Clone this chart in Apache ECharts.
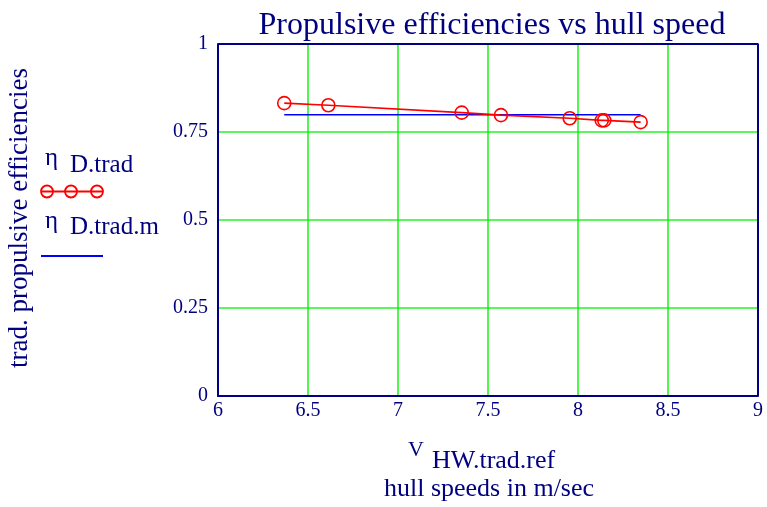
<!DOCTYPE html>
<html>
<head>
<meta charset="utf-8">
<script src="https://cdn.jsdelivr.net/npm/echarts@6/dist/echarts.min.js"></script>
<style>
  html, body { margin: 0; padding: 0; background: #fff; }
  #chart { width: 767px; height: 507px; }
</style>
</head>
<body>
<div id="chart"></div>
<script>
// hull speeds (m/sec) and traditional propulsive efficiencies
const speeds = [6.368, 6.613, 7.354, 7.572, 7.954, 8.132, 8.146, 8.348]
const etaTrad = [0.832, 0.826, 0.805, 0.798, 0.789, 0.783, 0.783, 0.778]
// mean efficiency line across the speed range
const meanSpeeds = [6.368, 8.348]
const etaMean = [0.799, 0.799]

const xTicks = [6, 6.5, 7, 7.5, 8, 8.5, 9]
const yTicks = [0, 0.25, 0.5, 0.75, 1]

const navy = '#000080'
const serif = '"Liberation Serif", "DejaVu Serif", serif'
const gridGreen = '#00f000'

const chart = echarts.init(document.getElementById('chart'))

function label(text, x, y, size, align) {
  return {
    type: 'text', x: x, y: y,
    style: {
      text: text, fill: navy, font: size + 'px ' + serif,
      align: align || 'left', verticalAlign: 'middle'
    }
  }
}

chart.setOption({
  animation: false,
  title: {
    text: 'Propulsive efficiencies vs hull speed',
    left: 487,
    textAlign: 'center',
    top: 5,
    textStyle: { color: navy, fontFamily: serif, fontSize: 32, fontWeight: 'normal' }
  },
  grid: { left: 218, right: 9, top: 44, bottom: 111 },
  xAxis: {
    type: 'value',
    min: xTicks[0],
    max: xTicks[xTicks.length - 1],
    interval: 0.5,
    axisLine: { show: true, onZero: false, lineStyle: { color: navy, width: 2 } },
    axisTick: { show: false },
    axisLabel: {
      color: navy, fontFamily: serif, fontSize: 20, margin: 5,
      formatter: v => String(v)
    },
    splitLine: { show: true, lineStyle: { color: gridGreen, width: 1.6, opacity: 0.85 } }
  },
  yAxis: {
    type: 'value',
    min: yTicks[0],
    max: yTicks[yTicks.length - 1],
    interval: 0.25,
    axisLine: { show: true, onZero: false, lineStyle: { color: navy, width: 2 } },
    axisTick: { show: false },
    axisLabel: {
      color: navy, fontFamily: serif, fontSize: 20, margin: 10,
      formatter: v => String(v)
    },
    splitLine: { show: true, lineStyle: { color: gridGreen, width: 1.6, opacity: 0.85 } }
  },
  series: [
    {
      name: 'eta D.trad',
      type: 'line',
      data: speeds.map((s, i) => [s, etaTrad[i]]),
      symbol: 'circle',
      symbolSize: 13,
      showAllSymbol: true,
      lineStyle: { color: '#ff0000', width: 1.6 },
      itemStyle: { color: 'rgba(0,0,0,0)', borderColor: '#ff0000', borderWidth: 1.6 },
      z: 3
    },
    {
      name: 'eta D.trad.m',
      type: 'line',
      data: meanSpeeds.map((s, i) => [s, etaMean[i]]),
      symbol: 'none',
      lineStyle: { color: '#0000ff', width: 1.6 },
      z: 2
    },
    {
      // frame: top and right borders of the plot box
      type: 'line',
      data: [[xTicks[0], 1], [9, 1], [9, 0]],
      symbol: 'none',
      silent: true,
      lineStyle: { color: navy, width: 2 },
      z: 4
    }
  ],
  graphic: [
    {
      type: 'text', x: 20, y: 218, rotation: Math.PI / 2,
      style: {
        text: 'trad. propulsive efficiencies', fill: navy,
        font: '27px ' + serif, align: 'center', verticalAlign: 'middle'
      }
    },
    // legend
    label('η', 45, 158, 25),
    label('D.trad', 70, 165, 25),
    { type: 'line', shape: { x1: 42, y1: 191.5, x2: 103, y2: 191.5 }, style: { stroke: '#ff0000', lineWidth: 1.8 } },
    { type: 'circle', shape: { cx: 47, cy: 191.5, r: 6 }, style: { stroke: '#ff0000', fill: 'none', lineWidth: 1.8 } },
    { type: 'circle', shape: { cx: 71, cy: 191.5, r: 6 }, style: { stroke: '#ff0000', fill: 'none', lineWidth: 1.8 } },
    { type: 'circle', shape: { cx: 97, cy: 191.5, r: 6 }, style: { stroke: '#ff0000', fill: 'none', lineWidth: 1.8 } },
    label('η', 45, 221, 25),
    label('D.trad.m', 70, 227, 25),
    { type: 'line', shape: { x1: 41, y1: 256, x2: 103, y2: 256 }, style: { stroke: '#0000ff', lineWidth: 1.8 } },
    // x axis name
    label('V', 408, 450, 22),
    label('HW.trad.ref', 432, 461, 26),
    label('hull speeds in m/sec', 489, 489, 26, 'center')
  ]
})
</script>
</body>
</html>
